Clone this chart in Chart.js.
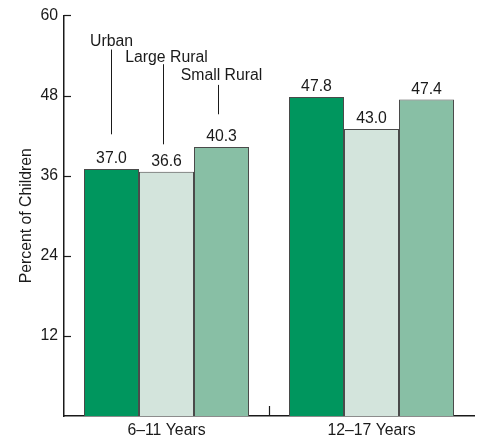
<!DOCTYPE html>
<html>
<head>
<meta charset="UTF-8">
<title>Percent of Children</title>
<script src="https://cdn.jsdelivr.net/npm/chart.js@4.4.1/dist/chart.umd.min.js"></script>
<style>
    html, body { margin: 0; padding: 0; background: #ffffff; }
    .chart-box { position: relative; width: 481px; height: 437px; }
</style>
</head>
<body>

<div class="chart-box">
    <canvas id="chartCanvas" width="481" height="437"></canvas>
</div>

<script>

    // age groups on the x axis
    var ageGroups = ['6\u201311 Years', '12\u201317 Years'];

    // one series per area type
    var seriesNames = ['Urban', 'Large Rural', 'Small Rural'];
    var urban = [37.0, 47.8];
    var largeRural = [36.6, 43.0];
    var smallRural = [40.3, 47.4];

    var yTicks = [12, 24, 36, 48, 60];

    var colors = ['#00965e', '#d3e4dc', '#88bfa5'];
    var textColor = '#1a1a1a';
    var fontFamily = '"Liberation Sans", Arial, Helvetica, sans-serif';
    var fontSize = 15.8;

    // callout labels over the first group: label y, line top and line bottom in percent,
    // and a small sideways shift of the line in px
    var callouts = [
        { labelY: 55.4, lineTop: 54.9, lineBottom: 42.2, dx: 0 },
        { labelY: 53.1, lineTop: 52.7, lineBottom: 40.7, dx: -3.5 },
        { labelY: 50.3, lineTop: 49.6, lineBottom: 45.2, dx: -4 }
    ];

    //
    // Draws value labels, callouts and the inward tick marks
    //
    var decorPlugin = {
        id: 'decor',
        afterDatasetsDraw: function(chart) {
            var ctx = chart.ctx;
            var xs = chart.scales.x;
            var ys = chart.scales.y;
            var area = chart.chartArea;

            ctx.save();
            ctx.font = fontSize + 'px ' + fontFamily;
            ctx.fillStyle = textColor;
            ctx.textAlign = 'center';
            ctx.textBaseline = 'alphabetic';

            // values over bars
            chart.data.datasets.forEach(function(ds, i) {
                var meta = chart.getDatasetMeta(i);
                meta.data.forEach(function(bar, j) {
                    ctx.fillText(ds.data[j].toFixed(1), bar.x, bar.y - 6);
                });
            });

            // callouts over the first group
            ctx.strokeStyle = '#1a1a1a';
            ctx.lineWidth = 1;
            callouts.forEach(function(c, i) {
                var bar = chart.getDatasetMeta(i).data[0];
                ctx.fillText(seriesNames[i], bar.x, ys.getPixelForValue(c.labelY));
                var lx = Math.round(bar.x + c.dx) + 0.5;
                ctx.beginPath();
                ctx.moveTo(lx, ys.getPixelForValue(c.lineTop));
                ctx.lineTo(lx, ys.getPixelForValue(c.lineBottom));
                ctx.stroke();
            });

            // y ticks pointing into the plot
            ctx.lineWidth = 1.2;
            yTicks.forEach(function(v) {
                var py = Math.round(ys.getPixelForValue(v)) + 0.5;
                ctx.beginPath();
                ctx.moveTo(area.left, py);
                ctx.lineTo(area.left + 7, py);
                ctx.stroke();
            });

            // separator tick between the two groups
            var mid = Math.round((xs.getPixelForValue(0) + xs.getPixelForValue(1)) / 2) + 0.5;
            ctx.beginPath();
            ctx.moveTo(mid, area.bottom);
            ctx.lineTo(mid, area.bottom - 10);
            ctx.stroke();

            ctx.restore();
        }
    };

    var datasets = [urban, largeRural, smallRural].map(function(values, i) {
        return {
            label: seriesNames[i],
            data: values,
            backgroundColor: colors[i],
            borderColor: '#4a4a4a',
            borderWidth: 1,
            borderSkipped: 'bottom',
            categoryPercentage: 0.805,
            barPercentage: 1.0
        };
    });

    var myChart = new Chart(document.getElementById('chartCanvas'), {
        type: 'bar',
        data: {
            labels: ageGroups,
            datasets: datasets
        },
        options: {
            responsive: false,
            animation: false,
            devicePixelRatio: 1,
            layout: {
                padding: { top: 14, right: 7, left: 0, bottom: 0 }
            },
            plugins: {
                legend: { display: false },
                tooltip: { enabled: false }
            },
            scales: {
                x: {
                    grid: { display: false, drawTicks: false },
                    border: { display: true, color: '#1a1a1a', width: 1.5 },
                    ticks: {
                        color: textColor,
                        padding: 5,
                        font: { family: fontFamily, size: fontSize }
                    },
                    afterFit: function(scale) { scale.height = 21; }
                },
                y: {
                    min: 0,
                    max: 60,
                    grid: { display: false, drawTicks: false },
                    border: { display: true, color: '#1a1a1a', width: 1.5 },
                    ticks: {
                        stepSize: 12,
                        padding: 6,
                        color: textColor,
                        font: { family: fontFamily, size: fontSize },
                        callback: function(v) { return v === 0 ? '' : v; }
                    },
                    title: {
                        display: true,
                        text: 'Percent of Children',
                        color: textColor,
                        font: { family: fontFamily, size: fontSize },
                        padding: { top: 17, bottom: 0 }
                    },
                    afterFit: function(scale) { scale.width = 64; }
                }
            }
        },
        plugins: [decorPlugin]
    });

</script>

</body>
</html>
